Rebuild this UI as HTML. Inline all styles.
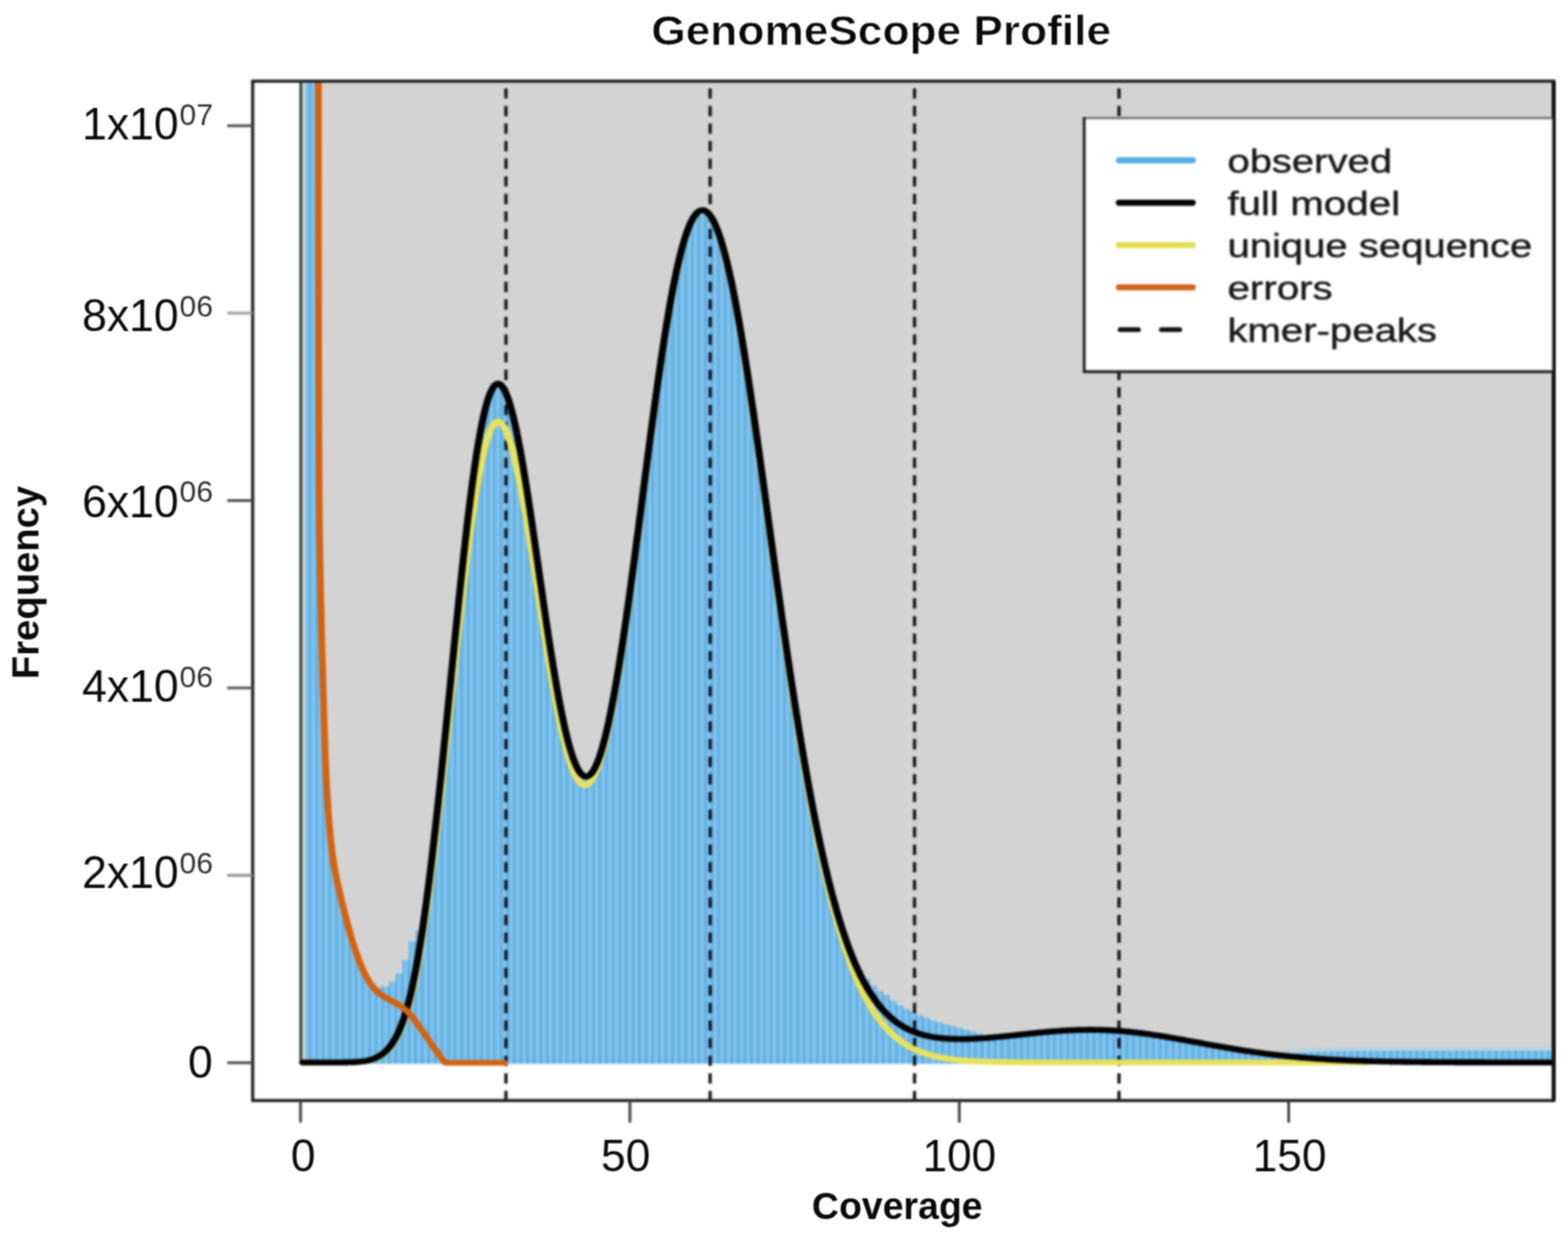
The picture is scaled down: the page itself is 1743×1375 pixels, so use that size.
<!DOCTYPE html>
<html lang="en">
<head>
<meta charset="utf-8">
<title>GenomeScope Profile</title>
<style>
html,body{margin:0;padding:0;background:#fff;}
body{width:1743px;height:1375px;overflow:hidden;font-family:"Liberation Sans",Arial,sans-serif;}
svg{display:block;}
</style>
</head>
<body>
<svg width="1743" height="1375" viewBox="0 0 1743 1375" font-family="'Liberation Sans', Arial, sans-serif">
<defs>
<clipPath id="cp"><rect x="280.9" y="90.2" width="1446.1999999999998" height="1133.1"/></clipPath>
<clipPath id="cpk"><rect x="238.051" y="90.2" width="1225.593" height="1133.1"/></clipPath>
<linearGradient id="sg" x1="0" y1="0" x2="1" y2="0"><stop offset="0" stop-color="#5eaadc"/><stop offset="0.5" stop-color="#88caf4"/><stop offset="1" stop-color="#5eaadc"/></linearGradient>
<pattern id="st" x="330.089" y="0" width="7.323" height="40" patternUnits="userSpaceOnUse"><rect x="0" y="0" width="7.323" height="40" fill="url(#sg)"/></pattern>
<filter id="soft" filterUnits="userSpaceOnUse" x="0" y="0" width="1743" height="1375" color-interpolation-filters="sRGB"><feGaussianBlur stdDeviation="1.0"/></filter>
<filter id="soft2" filterUnits="userSpaceOnUse" x="0" y="0" width="1743" height="1375" color-interpolation-filters="sRGB"><feConvolveMatrix order="3" kernelMatrix="1 2 1 2 4 2 1 2 1" divisor="16" edgeMode="duplicate" preserveAlpha="false"/></filter>
</defs>
<rect width="1743" height="1375" fill="#ffffff"/>
<g filter="url(#soft)">
<rect x="334" y="90.2" width="1393.1" height="1091.3" fill="#d3d3d3"/>
<g clip-path="url(#cp)">
<path d="M1399.25,1172.74V1168.24H1406.57V1172.74ZM1406.57,1173.68V1169.18H1413.89V1173.68ZM1413.89,1172.90V1168.40H1421.22V1172.90ZM1421.22,1172.16V1167.66H1428.54V1172.16ZM1428.54,1171.48V1166.98H1435.86V1171.48ZM1435.86,1170.88V1166.38H1443.18V1170.88ZM1443.18,1170.36V1165.86H1450.51V1170.36ZM1450.51,1169.91V1165.41H1457.83V1169.91ZM1457.83,1169.53V1165.03H1465.15V1169.53ZM1465.15,1169.22V1164.72H1472.48V1169.22ZM1472.48,1168.97V1164.47H1479.80V1168.97ZM1479.80,1168.76V1164.26H1487.12V1168.76ZM1487.12,1168.60V1164.10H1494.45V1168.60ZM1494.45,1168.47V1163.97H1501.77V1168.47ZM1501.77,1168.36V1163.86H1509.09V1168.36ZM1509.09,1168.28V1163.78H1516.41V1168.28ZM1516.41,1168.22V1163.72H1523.74V1168.22ZM1523.74,1168.16V1163.66H1531.06V1168.16ZM1531.06,1168.12V1163.62H1538.38V1168.12ZM1538.38,1168.09V1163.59H1545.71V1168.09ZM1545.71,1168.07V1163.57H1553.03V1168.07ZM1553.03,1168.05V1163.55H1560.35V1168.05ZM1560.35,1168.03V1163.53H1567.68V1168.03ZM1567.68,1168.02V1163.52H1575.00V1168.02ZM1575.00,1168.01V1163.51H1582.32V1168.01ZM1582.32,1168.01V1163.51H1589.64V1168.01ZM1589.64,1168.00V1163.50H1596.97V1168.00ZM1596.97,1168.00V1163.50H1604.29V1168.00ZM1604.29,1167.99V1163.49H1611.61V1167.99ZM1611.61,1167.99V1163.49H1618.94V1167.99ZM1618.94,1167.99V1163.49H1626.26V1167.99ZM1626.26,1167.99V1163.49H1633.58V1167.99ZM1633.58,1167.99V1163.49H1640.91V1167.99ZM1640.91,1167.98V1163.48H1648.23V1167.98ZM1648.23,1167.98V1163.48H1655.55V1167.98ZM1655.55,1167.98V1163.48H1662.87V1167.98ZM1662.87,1167.98V1163.48H1670.20V1167.98ZM1670.20,1167.98V1163.48H1677.52V1167.98ZM1677.52,1167.98V1163.48H1684.84V1167.98ZM1684.84,1167.98V1163.48H1692.17V1167.98ZM1692.17,1167.98V1163.48H1699.49V1167.98ZM1699.49,1167.98V1163.48H1706.81V1167.98ZM1706.81,1167.98V1163.48H1714.14V1167.98ZM1714.14,1167.98V1163.48H1721.46V1167.98ZM1721.46,1167.98V1163.48H1728.78V1167.98ZM1728.78,1167.98V1163.48H1736.10V1167.98ZM1736.10,1167.98V1163.48H1743.43V1167.98Z" fill="#a9d2ea" fill-opacity="0.75"/>
<path d="M339.20,1182.6V-4026.50H344.73V1182.6ZM344.73,1182.6V-4026.50H352.06V1182.6ZM352.06,1182.6V623.80H359.38V1182.6ZM359.38,1182.6V872.16H366.70V1182.6ZM366.70,1182.6V955.03H374.03V1182.6ZM374.03,1182.6V992.42H381.35V1182.6ZM381.35,1182.6V1022.02H388.67V1182.6ZM388.67,1182.6V1047.67H396.00V1182.6ZM396.00,1182.6V1068.06H403.32V1182.6ZM403.32,1182.6V1083.49H410.64V1182.6ZM410.64,1182.6V1093.03H417.96V1182.6ZM417.96,1182.6V1096.93H425.29V1182.6ZM425.29,1182.6V1096.45H432.61V1182.6ZM432.61,1182.6V1091.33H439.93V1182.6ZM439.93,1182.6V1082.04H447.26V1182.6ZM447.26,1182.6V1067.15H454.58V1182.6ZM454.58,1182.6V1046.40H461.90V1182.6ZM461.90,1182.6V1034.44H469.23V1182.6ZM469.23,1182.6V1010.46H476.55V1182.6ZM476.55,1182.6V952.91H483.87V1182.6ZM483.87,1182.6V887.84H491.19V1182.6ZM491.19,1182.6V817.57H498.52V1182.6ZM498.52,1182.6V744.83H505.84V1182.6ZM505.84,1182.6V672.79H513.16V1182.6ZM513.16,1182.6V604.82H520.49V1182.6ZM520.49,1182.6V544.29H527.81V1182.6ZM527.81,1182.6V494.24H535.13V1182.6ZM535.13,1182.6V457.06H542.46V1182.6ZM542.46,1182.6V434.30H549.78V1182.6ZM549.78,1182.6V426.55H557.10V1182.6ZM557.10,1182.6V433.44H564.42V1182.6ZM564.42,1182.6V453.74H571.75V1182.6ZM571.75,1182.6V485.47H579.07V1182.6ZM579.07,1182.6V526.17H586.39V1182.6ZM586.39,1182.6V573.05H593.72V1182.6ZM593.72,1182.6V623.21H601.04V1182.6ZM601.04,1182.6V673.84H608.36V1182.6ZM608.36,1182.6V722.32H615.69V1182.6ZM615.69,1182.6V766.30H623.01V1182.6ZM623.01,1182.6V803.76H630.33V1182.6ZM630.33,1182.6V833.04H637.65V1182.6ZM637.65,1182.6V852.85H644.98V1182.6ZM644.98,1182.6V862.34H652.30V1182.6ZM652.30,1182.6V861.12H659.62V1182.6ZM659.62,1182.6V849.26H666.95V1182.6ZM666.95,1182.6V827.30H674.27V1182.6ZM674.27,1182.6V796.13H681.59V1182.6ZM681.59,1182.6V756.96H688.92V1182.6ZM688.92,1182.6V711.16H696.24V1182.6ZM696.24,1182.6V660.29H703.56V1182.6ZM703.56,1182.6V605.97H710.88V1182.6ZM710.88,1182.6V549.92H718.21V1182.6ZM718.21,1182.6V493.93H725.53V1182.6ZM725.53,1182.6V439.77H732.85V1182.6ZM732.85,1182.6V389.22H740.18V1182.6ZM740.18,1182.6V343.91H747.50V1182.6ZM747.50,1182.6V305.27H754.82V1182.6ZM754.82,1182.6V274.41H762.15V1182.6ZM762.15,1182.6V252.02H769.47V1182.6ZM769.47,1182.6V238.42H776.79V1182.6ZM776.79,1182.6V233.64H784.11V1182.6ZM784.11,1182.6V237.51H791.44V1182.6ZM791.44,1182.6V249.81H798.76V1182.6ZM798.76,1182.6V270.24H806.08V1182.6ZM806.08,1182.6V298.32H813.41V1182.6ZM813.41,1182.6V333.35H820.73V1182.6ZM820.73,1182.6V374.36H828.05V1182.6ZM828.05,1182.6V420.21H835.38V1182.6ZM835.38,1182.6V469.63H842.70V1182.6ZM842.70,1182.6V521.40H850.02V1182.6ZM850.02,1182.6V574.32H857.34V1182.6ZM857.34,1182.6V627.34H864.67V1182.6ZM864.67,1182.6V679.52H871.99V1182.6ZM871.99,1182.6V730.09H879.31V1182.6ZM879.31,1182.6V778.38H886.64V1182.6ZM886.64,1182.6V823.89H893.96V1182.6ZM893.96,1182.6V866.25H901.28V1182.6ZM901.28,1182.6V905.22H908.61V1182.6ZM908.61,1182.6V940.69H915.93V1182.6ZM915.93,1182.6V972.61H923.25V1182.6ZM923.25,1182.6V1001.05H930.57V1182.6ZM930.57,1182.6V1026.15H937.90V1182.6ZM937.90,1182.6V1048.09H945.22V1182.6ZM945.22,1182.6V1064.48H952.54V1182.6ZM952.54,1182.6V1078.18H959.87V1182.6ZM959.87,1182.6V1087.87H967.19V1182.6ZM967.19,1182.6V1095.39H974.51V1182.6ZM974.51,1182.6V1101.50H981.84V1182.6ZM981.84,1182.6V1105.93H989.16V1182.6ZM989.16,1182.6V1112.29H996.48V1182.6ZM996.48,1182.6V1117.40H1003.80V1182.6ZM1003.80,1182.6V1121.45H1011.13V1182.6ZM1011.13,1182.6V1124.60H1018.45V1182.6ZM1018.45,1182.6V1128.29H1025.77V1182.6ZM1025.77,1182.6V1131.36H1033.10V1182.6ZM1033.10,1182.6V1133.90H1040.42V1182.6ZM1040.42,1182.6V1136.36H1047.74V1182.6ZM1047.74,1182.6V1138.45H1055.07V1182.6ZM1055.07,1182.6V1140.24H1062.39V1182.6ZM1062.39,1182.6V1142.48H1069.71V1182.6ZM1069.71,1182.6V1144.50H1077.03V1182.6ZM1077.03,1182.6V1146.36H1084.36V1182.6ZM1084.36,1182.6V1148.59H1091.68V1182.6ZM1091.68,1182.6V1150.70H1099.00V1182.6ZM1099.00,1182.6V1151.67H1106.33V1182.6ZM1106.33,1182.6V1152.57H1113.65V1182.6ZM1113.65,1182.6V1153.93H1120.97V1182.6ZM1120.97,1182.6V1153.17H1128.30V1182.6ZM1128.30,1182.6V1152.39H1135.62V1182.6ZM1135.62,1182.6V1151.60H1142.94V1182.6ZM1142.94,1182.6V1150.82H1150.26V1182.6ZM1150.26,1182.6V1150.07H1157.59V1182.6ZM1157.59,1182.6V1149.36H1164.91V1182.6ZM1164.91,1182.6V1148.71H1172.23V1182.6ZM1172.23,1182.6V1148.14H1179.56V1182.6ZM1179.56,1182.6V1147.65H1186.88V1182.6ZM1186.88,1182.6V1147.25H1194.20V1182.6ZM1194.20,1182.6V1146.97H1201.53V1182.6ZM1201.53,1182.6V1146.79H1208.85V1182.6ZM1208.85,1182.6V1146.74H1216.17V1182.6ZM1216.17,1182.6V1146.82H1223.49V1182.6ZM1223.49,1182.6V1147.03H1230.82V1182.6ZM1230.82,1182.6V1147.36H1238.14V1182.6ZM1238.14,1182.6V1147.82H1245.46V1182.6ZM1245.46,1182.6V1148.41H1252.79V1182.6ZM1252.79,1182.6V1149.11H1260.11V1182.6ZM1260.11,1182.6V1149.92H1267.43V1182.6ZM1267.43,1182.6V1150.84H1274.76V1182.6ZM1274.76,1182.6V1151.85H1282.08V1182.6ZM1282.08,1182.6V1152.94H1289.40V1182.6ZM1289.40,1182.6V1154.11H1296.72V1182.6ZM1296.72,1182.6V1155.33H1304.05V1182.6ZM1304.05,1182.6V1156.61H1311.37V1182.6ZM1311.37,1182.6V1157.91H1318.69V1182.6ZM1318.69,1182.6V1159.25H1326.02V1182.6ZM1326.02,1182.6V1160.59H1333.34V1182.6ZM1333.34,1182.6V1161.94H1340.66V1182.6ZM1340.66,1182.6V1163.28H1347.99V1182.6ZM1347.99,1182.6V1164.60H1355.31V1182.6ZM1355.31,1182.6V1165.89H1362.63V1182.6ZM1362.63,1182.6V1167.15H1369.95V1182.6ZM1369.95,1182.6V1168.37H1377.28V1182.6ZM1377.28,1182.6V1169.54H1384.60V1182.6ZM1384.60,1182.6V1170.66H1391.92V1182.6ZM1391.92,1182.6V1171.73H1399.25V1182.6ZM1399.25,1182.6V1172.74H1406.57V1182.6ZM1406.57,1182.6V1173.68H1413.89V1182.6ZM1413.89,1182.6V1172.90H1421.22V1182.6ZM1421.22,1182.6V1172.16H1428.54V1182.6ZM1428.54,1182.6V1171.48H1435.86V1182.6ZM1435.86,1182.6V1170.88H1443.18V1182.6ZM1443.18,1182.6V1170.36H1450.51V1182.6ZM1450.51,1182.6V1169.91H1457.83V1182.6ZM1457.83,1182.6V1169.53H1465.15V1182.6ZM1465.15,1182.6V1169.22H1472.48V1182.6ZM1472.48,1182.6V1168.97H1479.80V1182.6ZM1479.80,1182.6V1168.76H1487.12V1182.6ZM1487.12,1182.6V1168.60H1494.45V1182.6ZM1494.45,1182.6V1168.47H1501.77V1182.6ZM1501.77,1182.6V1168.36H1509.09V1182.6ZM1509.09,1182.6V1168.28H1516.41V1182.6ZM1516.41,1182.6V1168.22H1523.74V1182.6ZM1523.74,1182.6V1168.16H1531.06V1182.6ZM1531.06,1182.6V1168.12H1538.38V1182.6ZM1538.38,1182.6V1168.09H1545.71V1182.6ZM1545.71,1182.6V1168.07H1553.03V1182.6ZM1553.03,1182.6V1168.05H1560.35V1182.6ZM1560.35,1182.6V1168.03H1567.68V1182.6ZM1567.68,1182.6V1168.02H1575.00V1182.6ZM1575.00,1182.6V1168.01H1582.32V1182.6ZM1582.32,1182.6V1168.01H1589.64V1182.6ZM1589.64,1182.6V1168.00H1596.97V1182.6ZM1596.97,1182.6V1168.00H1604.29V1182.6ZM1604.29,1182.6V1167.99H1611.61V1182.6ZM1611.61,1182.6V1167.99H1618.94V1182.6ZM1618.94,1182.6V1167.99H1626.26V1182.6ZM1626.26,1182.6V1167.99H1633.58V1182.6ZM1633.58,1182.6V1167.99H1640.91V1182.6ZM1640.91,1182.6V1167.98H1648.23V1182.6ZM1648.23,1182.6V1167.98H1655.55V1182.6ZM1655.55,1182.6V1167.98H1662.87V1182.6ZM1662.87,1182.6V1167.98H1670.20V1182.6ZM1670.20,1182.6V1167.98H1677.52V1182.6ZM1677.52,1182.6V1167.98H1684.84V1182.6ZM1684.84,1182.6V1167.98H1692.17V1182.6ZM1692.17,1182.6V1167.98H1699.49V1182.6ZM1699.49,1182.6V1167.98H1706.81V1182.6ZM1706.81,1182.6V1167.98H1714.14V1182.6ZM1714.14,1182.6V1167.98H1721.46V1182.6ZM1721.46,1182.6V1167.98H1728.78V1182.6ZM1728.78,1182.6V1167.98H1736.10V1182.6ZM1736.10,1182.6V1167.98H1743.43V1182.6Z" fill="url(#st)"/>
<line x1="334.4" y1="90.2" x2="334.4" y2="1183" stroke="#3c4448" stroke-width="3.3"/>
<line x1="562.40" y1="78.6" x2="562.40" y2="1223.3" stroke="#0a0c0e" stroke-opacity="0.95" stroke-width="3.6" stroke-dasharray="11.45 8.1"/>
<line x1="789.40" y1="78.6" x2="789.40" y2="1223.3" stroke="#0a0c0e" stroke-opacity="0.95" stroke-width="3.6" stroke-dasharray="11.45 8.1"/>
<line x1="1016.60" y1="78.6" x2="1016.60" y2="1223.3" stroke="#0a0c0e" stroke-opacity="0.95" stroke-width="3.6" stroke-dasharray="11.45 8.1"/>
<line x1="1243.90" y1="78.6" x2="1243.90" y2="1223.3" stroke="#0a0c0e" stroke-opacity="0.95" stroke-width="3.6" stroke-dasharray="11.45 8.1"/>
</g>
<g clip-path="url(#cpk)" transform="scale(1.18,1)" fill="none" stroke-linejoin="round" stroke-linecap="round" stroke-width="6.6">
<polyline points="285.32,1181.00 286.56,1181.00 287.80,1181.00 289.04,1181.00 290.29,1181.00 291.53,1181.00 292.77,1181.00 294.01,1181.00 295.25,1181.00 296.49,1181.00 297.73,1181.00 298.97,1181.00 300.22,1181.00 301.46,1181.00 302.70,1181.00 303.94,1181.00 305.18,1181.00 306.42,1181.00 307.66,1181.00 308.90,1181.00 310.15,1181.00 311.39,1180.99 312.63,1180.99 313.87,1180.99 315.11,1180.99 316.35,1180.98 317.59,1180.98 318.83,1180.97 320.07,1180.96 321.32,1180.95 322.56,1180.94 323.80,1180.92 325.04,1180.90 326.28,1180.88 327.52,1180.85 328.76,1180.82 330.00,1180.78 331.25,1180.73 332.49,1180.68 333.73,1180.61 334.97,1180.53 336.21,1180.44 337.45,1180.34 338.69,1180.21 339.93,1180.07 341.17,1179.91 342.42,1179.72 343.66,1179.51 344.90,1179.26 346.14,1178.98 347.38,1178.67 348.62,1178.31 349.86,1177.91 351.10,1177.45 352.35,1176.95 353.59,1176.38 354.83,1175.76 356.07,1175.06 357.31,1174.29 358.55,1173.43 359.79,1172.49 361.03,1171.44 362.27,1170.30 363.52,1169.04 364.76,1167.67 366.00,1166.16 367.24,1164.51 368.48,1162.70 369.72,1160.74 370.96,1158.59 372.20,1156.26 373.45,1153.72 374.69,1150.97 375.93,1147.98 377.17,1144.75 378.41,1141.25 379.65,1137.48 380.89,1133.41 382.13,1129.04 383.38,1124.35 384.62,1119.32 385.86,1113.95 387.10,1108.22 388.34,1102.13 389.58,1095.66 390.82,1088.81 392.06,1081.59 393.30,1073.97 394.55,1065.97 395.79,1057.58 397.03,1048.82 398.27,1039.67 399.51,1030.16 400.75,1020.28 401.99,1010.06 403.23,999.49 404.48,988.59 405.72,977.38 406.96,965.87 408.20,954.07 409.44,942.01 410.68,929.69 411.92,917.14 413.16,904.37 414.40,891.40 415.65,878.26 416.89,864.96 418.13,851.52 419.37,837.97 420.61,824.32 421.85,810.61 423.09,796.85 424.33,783.06 425.58,769.28 426.82,755.52 428.06,741.81 429.30,728.18 430.54,714.65 431.78,701.25 433.02,688.00 434.26,674.94 435.50,662.08 436.75,649.45 437.99,637.08 439.23,624.99 440.47,613.21 441.71,601.76 442.95,590.66 444.19,579.94 445.43,569.61 446.68,559.70 447.92,550.24 449.16,541.22 450.40,532.68 451.64,524.63 452.88,517.08 454.12,510.04 455.36,503.54 456.61,497.57 457.85,492.15 459.09,487.28 460.33,482.98 461.57,479.23 462.81,476.06 464.05,473.46 465.29,471.42 466.53,469.95 467.78,469.05 469.02,468.71 470.26,468.92 471.50,469.68 472.74,470.98 473.98,472.81 475.22,475.16 476.46,478.02 477.71,481.37 478.95,485.20 480.19,489.50 481.43,494.24 482.67,499.42 483.91,505.01 485.15,511.00 486.39,517.36 487.63,524.08 488.88,531.14 490.12,538.52 491.36,546.19 492.60,554.14 493.84,562.34 495.08,570.77 496.32,579.41 497.56,588.23 498.81,597.22 500.05,606.36 501.29,615.61 502.53,624.96 503.77,634.39 505.01,643.88 506.25,653.40 507.49,662.93 508.73,672.45 509.98,681.95 511.22,691.40 512.46,700.78 513.70,710.07 514.94,719.26 516.18,728.32 517.42,737.24 518.66,746.00 519.91,754.59 521.15,762.97 522.39,771.15 523.63,779.11 524.87,786.82 526.11,794.28 527.35,801.47 528.59,808.38 529.84,815.00 531.08,821.30 532.32,827.29 533.56,832.95 534.80,838.26 536.04,843.23 537.28,847.83 538.52,852.07 539.76,855.93 541.01,859.40 542.25,862.48 543.49,865.17 544.73,867.45 545.97,869.32 547.21,870.79 548.45,871.84 549.69,872.47 550.94,872.68 552.18,872.48 553.42,871.85 554.66,870.81 555.90,869.34 557.14,867.47 558.38,865.18 559.62,862.48 560.86,859.37 562.11,855.87 563.35,851.97 564.59,847.68 565.83,843.01 567.07,837.96 568.31,832.55 569.55,826.77 570.79,820.65 572.04,814.18 573.28,807.38 574.52,800.26 575.76,792.82 577.00,785.08 578.24,777.05 579.48,768.74 580.72,760.16 581.96,751.33 583.21,742.24 584.45,732.92 585.69,723.38 586.93,713.63 588.17,703.68 589.41,693.55 590.65,683.25 591.89,672.78 593.14,662.17 594.38,651.43 595.62,640.56 596.86,629.60 598.10,618.53 599.34,607.39 600.58,596.19 601.82,584.93 603.07,573.64 604.31,562.32 605.55,551.00 606.79,539.68 608.03,528.38 609.27,517.11 610.51,505.89 611.75,494.74 612.99,483.66 614.24,472.67 615.48,461.78 616.72,451.02 617.96,440.38 619.20,429.90 620.44,419.57 621.68,409.42 622.92,399.45 624.17,389.69 625.41,380.13 626.65,370.81 627.89,361.71 629.13,352.87 630.37,344.28 631.61,335.97 632.85,327.93 634.09,320.18 635.34,312.73 636.58,305.59 637.82,298.75 639.06,292.24 640.30,286.06 641.54,280.21 642.78,274.69 644.02,269.52 645.27,264.69 646.51,260.21 647.75,256.08 648.99,252.31 650.23,248.88 651.47,245.81 652.71,243.10 653.95,240.74 655.19,238.74 656.44,237.09 657.68,235.79 658.92,234.84 660.16,234.25 661.40,234.00 662.64,234.10 663.88,234.55 665.12,235.34 666.37,236.48 667.61,237.95 668.85,239.77 670.09,241.92 671.33,244.40 672.57,247.22 673.81,250.36 675.05,253.83 676.30,257.63 677.54,261.75 678.78,266.18 680.02,270.93 681.26,275.98 682.50,281.34 683.74,286.99 684.98,292.94 686.22,299.18 687.47,305.69 688.71,312.48 689.95,319.54 691.19,326.85 692.43,334.41 693.67,342.22 694.91,350.25 696.15,358.51 697.40,366.99 698.64,375.67 699.88,384.55 701.12,393.61 702.36,402.85 703.60,412.25 704.84,421.81 706.08,431.51 707.32,441.35 708.57,451.31 709.81,461.39 711.05,471.57 712.29,481.85 713.53,492.21 714.77,502.65 716.01,513.15 717.25,523.72 718.50,534.33 719.74,544.98 720.98,555.66 722.22,566.36 723.46,577.08 724.70,587.80 725.94,598.52 727.18,609.23 728.42,619.92 729.67,630.59 730.91,641.22 732.15,651.82 733.39,662.37 734.63,672.87 735.87,683.32 737.11,693.70 738.35,704.01 739.60,714.25 740.84,724.41 742.08,734.48 743.32,744.46 744.56,754.35 745.80,764.14 747.04,773.83 748.28,783.42 749.53,792.89 750.77,802.25 752.01,811.50 753.25,820.62 754.49,829.62 755.73,838.50 756.97,847.25 758.21,855.88 759.45,864.37 760.70,872.73 761.94,880.95 763.18,889.04 764.42,896.99 765.66,904.81 766.90,912.48 768.14,920.02 769.38,927.41 770.63,934.67 771.87,941.78 773.11,948.75 774.35,955.58 775.59,962.28 776.83,968.83 778.07,975.24 779.31,981.51 780.55,987.65 781.80,993.64 783.04,999.50 784.28,1005.22 785.52,1010.81 786.76,1016.27 788.00,1021.59 789.24,1026.78 790.48,1031.84 791.73,1036.78 792.97,1041.58 794.21,1046.27 795.45,1050.82 796.69,1055.26 797.93,1059.58 799.17,1063.78 800.41,1067.86 801.65,1071.83 802.90,1075.69 804.14,1079.43 805.38,1083.07 806.62,1086.60 807.86,1090.03 809.10,1093.35 810.34,1096.58 811.58,1099.70 812.83,1102.73 814.07,1105.67 815.31,1108.51 816.55,1111.27 817.79,1113.93 819.03,1116.51 820.27,1119.00 821.51,1121.42 822.76,1123.75 824.00,1126.00 825.24,1128.18 826.48,1130.29 827.72,1132.32 828.96,1134.28 830.20,1136.17 831.44,1138.00 832.68,1139.76 833.93,1141.46 835.17,1143.10 836.41,1144.68 837.65,1146.20 838.89,1147.66 840.13,1149.07 841.37,1150.43 842.61,1151.74 843.86,1153.00 845.10,1154.21 846.34,1155.37 847.58,1156.49 848.82,1157.56 850.06,1158.59 851.30,1159.59 852.54,1160.54 853.78,1161.45 855.03,1162.33 856.27,1163.17 857.51,1163.98 858.75,1164.76 859.99,1165.50 861.23,1166.21 862.47,1166.89 863.71,1167.55 864.96,1168.18 866.20,1168.78 867.44,1169.35 868.68,1169.90 869.92,1170.43 871.16,1170.93 872.40,1171.41 873.64,1171.87 874.88,1172.31 876.13,1172.73 877.37,1173.13 878.61,1173.52 879.85,1173.88 881.09,1174.23 882.33,1174.57 883.57,1174.89 884.81,1175.19 886.06,1175.48 887.30,1175.76 888.54,1176.02 889.78,1176.27 891.02,1176.51 892.26,1176.74 893.50,1176.96 894.74,1177.17 895.99,1177.36 897.23,1177.55 898.47,1177.73 899.71,1177.90 900.95,1178.06 902.19,1178.22 903.43,1178.36 904.67,1178.50 905.91,1178.64 907.16,1178.76 908.40,1178.88 909.64,1178.99 910.88,1179.10 912.12,1179.20 913.36,1179.30 914.60,1179.39 915.84,1179.48 917.09,1179.56 918.33,1179.64 919.57,1179.72 920.81,1179.79 922.05,1179.86 923.29,1179.92 924.53,1179.98 925.77,1180.04 927.01,1180.09 928.26,1180.14 929.50,1180.19 930.74,1180.24 931.98,1180.28 933.22,1180.32 934.46,1180.36 935.70,1180.40 936.94,1180.43 938.19,1180.46 939.43,1180.49 940.67,1180.52 941.91,1180.55 943.15,1180.58 944.39,1180.60 945.63,1180.63 946.87,1180.65 948.11,1180.67 949.36,1180.69 950.60,1180.71 951.84,1180.72 953.08,1180.74 954.32,1180.76 955.56,1180.77 956.80,1180.78 958.04,1180.80 959.29,1180.81 960.53,1180.82 961.77,1180.83 963.01,1180.84 964.25,1180.85 965.49,1180.86 966.73,1180.87 967.97,1180.88 969.22,1180.89 970.46,1180.89 971.70,1180.90 972.94,1180.91 974.18,1180.91 975.42,1180.92 976.66,1180.92 977.90,1180.93 979.14,1180.93 980.39,1180.94 981.63,1180.94 982.87,1180.94 984.11,1180.95 985.35,1180.95 986.59,1180.95 987.83,1180.96 989.07,1180.96 990.32,1180.96 991.56,1180.96 992.80,1180.97 994.04,1180.97 995.28,1180.97 996.52,1180.97 997.76,1180.97 999.00,1180.98 1000.24,1180.98 1001.49,1180.98 1002.73,1180.98 1003.97,1180.98 1005.21,1180.98 1006.45,1180.98 1007.69,1180.99 1008.93,1180.99 1010.17,1180.99 1011.42,1180.99 1012.66,1180.99 1013.90,1180.99 1015.14,1180.99 1016.38,1180.99 1017.62,1180.99 1018.86,1180.99 1020.10,1180.99 1021.34,1180.99 1022.59,1180.99 1023.83,1180.99 1025.07,1180.99 1026.31,1180.99 1027.55,1181.00 1028.79,1181.00 1030.03,1181.00 1031.27,1181.00 1032.52,1181.00 1033.76,1181.00 1035.00,1181.00 1036.24,1181.00 1037.48,1181.00 1038.72,1181.00 1039.96,1181.00 1041.20,1181.00 1042.45,1181.00 1043.69,1181.00 1044.93,1181.00 1046.17,1181.00 1047.41,1181.00 1048.65,1181.00 1049.89,1181.00 1051.13,1181.00 1052.37,1181.00 1053.62,1181.00 1054.86,1181.00 1056.10,1181.00 1057.34,1181.00 1058.58,1181.00 1059.82,1181.00 1061.06,1181.00 1062.30,1181.00 1063.55,1181.00 1064.79,1181.00 1066.03,1181.00 1067.27,1181.00 1068.51,1181.00 1069.75,1181.00 1070.99,1181.00 1072.23,1181.00 1073.47,1181.00 1074.72,1181.00 1075.96,1181.00 1077.20,1181.00 1078.44,1181.00 1079.68,1181.00 1080.92,1181.00 1082.16,1181.00 1083.40,1181.00 1084.65,1181.00 1085.89,1181.00 1087.13,1181.00 1088.37,1181.00 1089.61,1181.00 1090.85,1181.00 1092.09,1181.00 1093.33,1181.00 1094.57,1181.00 1095.82,1181.00 1097.06,1181.00 1098.30,1181.00 1099.54,1181.00 1100.78,1181.00 1102.02,1181.00 1103.26,1181.00 1104.50,1181.00 1105.75,1181.00 1106.99,1181.00 1108.23,1181.00 1109.47,1181.00 1110.71,1181.00 1111.95,1181.00 1113.19,1181.00 1114.43,1181.00 1115.68,1181.00 1116.92,1181.00 1118.16,1181.00 1119.40,1181.00 1120.64,1181.00 1121.88,1181.00 1123.12,1181.00 1124.36,1181.00 1125.60,1181.00 1126.85,1181.00 1128.09,1181.00 1129.33,1181.00 1130.57,1181.00 1131.81,1181.00 1133.05,1181.00 1134.29,1181.00 1135.53,1181.00 1136.78,1181.00 1138.02,1181.00 1139.26,1181.00 1140.50,1181.00 1141.74,1181.00 1142.98,1181.00 1144.22,1181.00 1145.46,1181.00 1146.70,1181.00 1147.95,1181.00 1149.19,1181.00 1150.43,1181.00 1151.67,1181.00 1152.91,1181.00 1154.15,1181.00 1155.39,1181.00 1156.63,1181.00 1157.88,1181.00 1159.12,1181.00 1160.36,1181.00 1161.60,1181.00 1162.84,1181.00 1164.08,1181.00 1165.32,1181.00 1166.56,1181.00 1167.80,1181.00 1169.05,1181.00 1170.29,1181.00 1171.53,1181.00 1172.77,1181.00 1174.01,1181.00 1175.25,1181.00 1176.49,1181.00 1177.73,1181.00 1178.98,1181.00 1180.22,1181.00 1181.46,1181.00 1182.70,1181.00 1183.94,1181.00 1185.18,1181.00 1186.42,1181.00 1187.66,1181.00 1188.91,1181.00 1190.15,1181.00 1191.39,1181.00 1192.63,1181.00 1193.87,1181.00 1195.11,1181.00 1196.35,1181.00 1197.59,1181.00 1198.83,1181.00 1200.08,1181.00 1201.32,1181.00 1202.56,1181.00 1203.80,1181.00 1205.04,1181.00 1206.28,1181.00 1207.52,1181.00 1208.76,1181.00 1210.01,1181.00 1211.25,1181.00 1212.49,1181.00 1213.73,1181.00 1214.97,1181.00 1216.21,1181.00 1217.45,1181.00 1218.69,1181.00 1219.93,1181.00 1221.18,1181.00 1222.42,1181.00 1223.66,1181.00 1224.90,1181.00 1226.14,1181.00 1227.38,1181.00 1228.62,1181.00 1229.86,1181.00 1231.11,1181.00 1232.35,1181.00 1233.59,1181.00 1234.83,1181.00 1236.07,1181.00 1237.31,1181.00 1238.55,1181.00 1239.79,1181.00 1241.03,1181.00 1242.28,1181.00 1243.52,1181.00 1244.76,1181.00 1246.00,1181.00 1247.24,1181.00 1248.48,1181.00 1249.72,1181.00 1250.96,1181.00 1252.21,1181.00 1253.45,1181.00 1254.69,1181.00 1255.93,1181.00 1257.17,1181.00 1258.41,1181.00 1259.65,1181.00 1260.89,1181.00 1262.14,1181.00 1263.38,1181.00 1264.62,1181.00 1265.86,1181.00 1267.10,1181.00 1268.34,1181.00 1269.58,1181.00 1270.82,1181.00 1272.06,1181.00 1273.31,1181.00 1274.55,1181.00 1275.79,1181.00 1277.03,1181.00 1278.27,1181.00 1279.51,1181.00 1280.75,1181.00 1281.99,1181.00 1283.24,1181.00 1284.48,1181.00 1285.72,1181.00 1286.96,1181.00" stroke="#e8e25c"/>
<polyline points="285.32,1181.00 286.56,1181.00 287.80,1181.00 289.04,1181.00 290.29,1181.00 291.53,1181.00 292.77,1181.00 294.01,1181.00 295.25,1181.00 296.49,1181.00 297.73,1181.00 298.97,1181.00 300.22,1181.00 301.46,1181.00 302.70,1181.00 303.94,1181.00 305.18,1181.00 306.42,1181.00 307.66,1181.00 308.90,1181.00 310.15,1180.99 311.39,1180.99 312.63,1180.99 313.87,1180.99 315.11,1180.98 316.35,1180.98 317.59,1180.97 318.83,1180.97 320.07,1180.96 321.32,1180.95 322.56,1180.93 323.80,1180.92 325.04,1180.90 326.28,1180.87 327.52,1180.84 328.76,1180.81 330.00,1180.77 331.25,1180.72 332.49,1180.66 333.73,1180.59 334.97,1180.51 336.21,1180.41 337.45,1180.30 338.69,1180.17 339.93,1180.02 341.17,1179.84 342.42,1179.64 343.66,1179.41 344.90,1179.15 346.14,1178.86 347.38,1178.52 348.62,1178.14 349.86,1177.71 351.10,1177.23 352.35,1176.69 353.59,1176.09 354.83,1175.42 356.07,1174.68 357.31,1173.85 358.55,1172.94 359.79,1171.93 361.03,1170.82 362.27,1169.60 363.52,1168.26 364.76,1166.79 366.00,1165.18 367.24,1163.42 368.48,1161.49 369.72,1159.39 370.96,1157.10 372.20,1154.61 373.45,1151.91 374.69,1148.97 375.93,1145.79 377.17,1142.35 378.41,1138.62 379.65,1134.61 380.89,1130.29 382.13,1125.64 383.38,1120.65 384.62,1115.32 385.86,1109.62 387.10,1103.54 388.34,1097.08 389.58,1090.23 390.82,1082.98 392.06,1075.32 393.30,1067.26 394.55,1058.79 395.79,1049.92 397.03,1040.64 398.27,1030.97 399.51,1020.90 400.75,1010.46 401.99,999.64 403.23,988.47 404.48,976.94 405.72,965.09 406.96,952.91 408.20,940.43 409.44,927.67 410.68,914.64 411.92,901.36 413.16,887.84 414.40,874.12 415.65,860.21 416.89,846.14 418.13,831.91 419.37,817.57 420.61,803.12 421.85,788.60 423.09,774.03 424.33,759.43 425.58,744.83 426.82,730.26 428.06,715.75 429.30,701.31 430.54,686.98 431.78,672.79 433.02,658.76 434.26,644.92 435.50,631.30 436.75,617.92 437.99,604.82 439.23,592.01 440.47,579.53 441.71,567.40 442.95,555.65 444.19,544.29 445.43,533.35 446.68,522.86 447.92,512.83 449.16,503.29 450.40,494.24 451.64,485.71 452.88,477.72 454.12,470.27 455.36,463.38 456.61,457.06 457.85,451.32 459.09,446.17 460.33,441.61 461.57,437.66 462.81,434.30 464.05,431.55 465.29,429.40 466.53,427.85 467.78,426.90 469.02,426.55 470.26,426.79 471.50,427.60 472.74,428.99 473.98,430.94 475.22,433.44 476.46,436.48 477.71,440.05 478.95,444.12 480.19,448.69 481.43,453.74 482.67,459.24 483.91,465.19 485.15,471.56 486.39,478.32 487.63,485.47 488.88,492.98 490.12,500.83 491.36,508.99 492.60,517.45 493.84,526.17 495.08,535.14 496.32,544.34 497.56,553.74 498.81,563.32 500.05,573.05 501.29,582.91 502.53,592.88 503.77,602.93 505.01,613.05 506.25,623.21 507.49,633.38 508.73,643.56 509.98,653.70 511.22,663.80 512.46,673.84 513.70,683.79 514.94,693.63 516.18,703.34 517.42,712.91 518.66,722.32 519.91,731.54 521.15,740.57 522.39,749.38 523.63,757.96 524.87,766.30 526.11,774.37 527.35,782.17 528.59,789.67 529.84,796.88 531.08,803.76 532.32,810.32 533.56,816.54 534.80,822.40 536.04,827.91 537.28,833.04 538.52,837.79 539.76,842.16 541.01,846.13 542.25,849.69 543.49,852.85 544.73,855.59 545.97,857.92 547.21,859.82 548.45,861.29 549.69,862.34 550.94,862.96 552.18,863.14 553.42,862.90 554.66,862.22 555.90,861.12 557.14,859.58 558.38,857.63 559.62,855.25 560.86,852.46 562.11,849.26 563.35,845.65 564.59,841.64 565.83,837.24 567.07,832.46 568.31,827.30 569.55,821.77 570.79,815.87 572.04,809.63 573.28,803.05 574.52,796.13 575.76,788.90 577.00,781.35 578.24,773.50 579.48,765.37 580.72,756.96 581.96,748.28 583.21,739.35 584.45,730.18 585.69,720.78 586.93,711.16 588.17,701.34 589.41,691.33 590.65,681.14 591.89,670.79 593.14,660.29 594.38,649.64 595.62,638.88 596.86,628.00 598.10,617.02 599.34,605.97 600.58,594.84 601.82,583.66 603.07,572.43 604.31,561.18 605.55,549.92 606.79,538.66 608.03,527.42 609.27,516.20 610.51,505.04 611.75,493.93 612.99,482.89 614.24,471.94 615.48,461.10 616.72,450.37 617.96,439.77 619.20,429.32 620.44,419.02 621.68,408.90 622.92,398.96 624.17,389.22 625.41,379.69 626.65,370.38 627.89,361.31 629.13,352.48 630.37,343.91 631.61,335.61 632.85,327.58 634.09,319.85 635.34,312.41 636.58,305.27 637.82,298.45 639.06,291.95 640.30,285.77 641.54,279.92 642.78,274.41 644.02,269.24 645.27,264.41 646.51,259.93 647.75,255.80 648.99,252.02 650.23,248.59 651.47,245.52 652.71,242.80 653.95,240.44 655.19,238.42 656.44,236.77 657.68,235.46 658.92,234.50 660.16,233.90 661.40,233.64 662.64,233.72 663.88,234.16 665.12,234.93 666.37,236.05 667.61,237.51 668.85,239.30 670.09,241.43 671.33,243.90 672.57,246.69 673.81,249.81 675.05,253.26 676.30,257.03 677.54,261.12 678.78,265.52 680.02,270.24 681.26,275.26 682.50,280.59 683.74,286.21 684.98,292.12 686.22,298.32 687.47,304.80 688.71,311.55 689.95,318.56 691.19,325.83 692.43,333.35 693.67,341.11 694.91,349.10 696.15,357.31 697.40,365.74 698.64,374.36 699.88,383.19 701.12,392.19 702.36,401.37 703.60,410.71 704.84,420.21 706.08,429.85 707.32,439.62 708.57,449.52 709.81,459.52 711.05,469.63 712.29,479.84 713.53,490.13 714.77,500.49 716.01,510.91 717.25,521.40 718.50,531.92 719.74,542.49 720.98,553.08 722.22,563.69 723.46,574.32 724.70,584.95 725.94,595.57 727.18,606.18 728.42,616.77 729.67,627.34 730.91,637.87 732.15,648.36 733.39,658.80 734.63,669.19 735.87,679.52 737.11,689.79 738.35,699.98 739.60,710.10 740.84,720.14 742.08,730.09 743.32,739.95 744.56,749.71 745.80,759.37 747.04,768.93 748.28,778.38 749.53,787.72 750.77,796.94 752.01,806.04 753.25,815.03 754.49,823.89 755.73,832.62 756.97,841.23 758.21,849.70 759.45,858.04 760.70,866.25 761.94,874.32 763.18,882.26 764.42,890.05 765.66,897.71 766.90,905.22 768.14,912.60 769.38,919.83 770.63,926.93 771.87,933.88 773.11,940.69 774.35,947.35 775.59,953.88 776.83,960.26 778.07,966.50 779.31,972.61 780.55,978.57 781.80,984.40 783.04,990.09 784.28,995.64 785.52,1001.05 786.76,1006.34 788.00,1011.49 789.24,1016.51 790.48,1021.39 791.73,1026.15 792.97,1030.79 794.21,1035.30 795.45,1039.68 796.69,1043.95 797.93,1048.09 799.17,1052.12 800.41,1056.03 801.65,1059.83 802.90,1063.51 804.14,1067.09 805.38,1070.56 806.62,1073.92 807.86,1077.18 809.10,1080.33 810.34,1083.39 811.58,1086.35 812.83,1089.21 814.07,1091.98 815.31,1094.66 816.55,1097.25 817.79,1099.75 819.03,1102.17 820.27,1104.50 821.51,1106.76 822.76,1108.93 824.00,1111.03 825.24,1113.05 826.48,1115.00 827.72,1116.88 828.96,1118.69 830.20,1120.43 831.44,1122.11 832.68,1123.72 833.93,1125.27 835.17,1126.76 836.41,1128.19 837.65,1129.57 838.89,1130.89 840.13,1132.16 841.37,1133.38 842.61,1134.55 843.86,1135.67 845.10,1136.74 846.34,1137.77 847.58,1138.75 848.82,1139.69 850.06,1140.59 851.30,1141.45 852.54,1142.27 853.78,1143.06 855.03,1143.81 856.27,1144.52 857.51,1145.20 858.75,1145.85 859.99,1146.47 861.23,1147.06 862.47,1147.61 863.71,1148.14 864.96,1148.65 866.20,1149.12 867.44,1149.58 868.68,1150.00 869.92,1150.41 871.16,1150.79 872.40,1151.15 873.64,1151.49 874.88,1151.81 876.13,1152.11 877.37,1152.39 878.61,1152.65 879.85,1152.90 881.09,1153.13 882.33,1153.34 883.57,1153.53 884.81,1153.72 886.06,1153.88 887.30,1154.04 888.54,1154.18 889.78,1154.30 891.02,1154.42 892.26,1154.52 893.50,1154.61 894.74,1154.69 895.99,1154.76 897.23,1154.82 898.47,1154.87 899.71,1154.91 900.95,1154.94 902.19,1154.96 903.43,1154.97 904.67,1154.98 905.91,1154.97 907.16,1154.96 908.40,1154.94 909.64,1154.92 910.88,1154.88 912.12,1154.84 913.36,1154.80 914.60,1154.75 915.84,1154.69 917.09,1154.62 918.33,1154.55 919.57,1154.48 920.81,1154.40 922.05,1154.31 923.29,1154.22 924.53,1154.13 925.77,1154.03 927.01,1153.93 928.26,1153.82 929.50,1153.71 930.74,1153.60 931.98,1153.48 933.22,1153.36 934.46,1153.23 935.70,1153.11 936.94,1152.98 938.19,1152.84 939.43,1152.71 940.67,1152.57 941.91,1152.43 943.15,1152.29 944.39,1152.14 945.63,1152.00 946.87,1151.85 948.11,1151.70 949.36,1151.55 950.60,1151.39 951.84,1151.24 953.08,1151.09 954.32,1150.93 955.56,1150.77 956.80,1150.62 958.04,1150.46 959.29,1150.30 960.53,1150.15 961.77,1149.99 963.01,1149.83 964.25,1149.67 965.49,1149.51 966.73,1149.36 967.97,1149.20 969.22,1149.05 970.46,1148.89 971.70,1148.74 972.94,1148.58 974.18,1148.43 975.42,1148.28 976.66,1148.13 977.90,1147.99 979.14,1147.84 980.39,1147.70 981.63,1147.56 982.87,1147.42 984.11,1147.28 985.35,1147.14 986.59,1147.01 987.83,1146.88 989.07,1146.76 990.32,1146.63 991.56,1146.51 992.80,1146.39 994.04,1146.28 995.28,1146.16 996.52,1146.05 997.76,1145.95 999.00,1145.85 1000.24,1145.75 1001.49,1145.65 1002.73,1145.56 1003.97,1145.48 1005.21,1145.39 1006.45,1145.32 1007.69,1145.24 1008.93,1145.17 1010.17,1145.10 1011.42,1145.04 1012.66,1144.98 1013.90,1144.93 1015.14,1144.88 1016.38,1144.84 1017.62,1144.80 1018.86,1144.77 1020.10,1144.74 1021.34,1144.71 1022.59,1144.69 1023.83,1144.68 1025.07,1144.67 1026.31,1144.66 1027.55,1144.66 1028.79,1144.67 1030.03,1144.68 1031.27,1144.69 1032.52,1144.71 1033.76,1144.74 1035.00,1144.77 1036.24,1144.80 1037.48,1144.85 1038.72,1144.89 1039.96,1144.94 1041.20,1145.00 1042.45,1145.06 1043.69,1145.13 1044.93,1145.20 1046.17,1145.28 1047.41,1145.36 1048.65,1145.45 1049.89,1145.54 1051.13,1145.64 1052.37,1145.74 1053.62,1145.84 1054.86,1145.96 1056.10,1146.07 1057.34,1146.20 1058.58,1146.32 1059.82,1146.45 1061.06,1146.59 1062.30,1146.73 1063.55,1146.88 1064.79,1147.03 1066.03,1147.18 1067.27,1147.34 1068.51,1147.50 1069.75,1147.67 1070.99,1147.84 1072.23,1148.01 1073.47,1148.19 1074.72,1148.38 1075.96,1148.57 1077.20,1148.76 1078.44,1148.95 1079.68,1149.15 1080.92,1149.35 1082.16,1149.56 1083.40,1149.77 1084.65,1149.98 1085.89,1150.20 1087.13,1150.41 1088.37,1150.64 1089.61,1150.86 1090.85,1151.09 1092.09,1151.32 1093.33,1151.55 1094.57,1151.79 1095.82,1152.03 1097.06,1152.27 1098.30,1152.51 1099.54,1152.75 1100.78,1153.00 1102.02,1153.25 1103.26,1153.50 1104.50,1153.75 1105.75,1154.01 1106.99,1154.26 1108.23,1154.52 1109.47,1154.78 1110.71,1155.04 1111.95,1155.30 1113.19,1155.57 1114.43,1155.83 1115.68,1156.10 1116.92,1156.36 1118.16,1156.63 1119.40,1156.90 1120.64,1157.16 1121.88,1157.43 1123.12,1157.70 1124.36,1157.97 1125.60,1158.24 1126.85,1158.51 1128.09,1158.78 1129.33,1159.05 1130.57,1159.32 1131.81,1159.59 1133.05,1159.85 1134.29,1160.12 1135.53,1160.39 1136.78,1160.66 1138.02,1160.93 1139.26,1161.19 1140.50,1161.46 1141.74,1161.72 1142.98,1161.99 1144.22,1162.25 1145.46,1162.51 1146.70,1162.77 1147.95,1163.03 1149.19,1163.29 1150.43,1163.55 1151.67,1163.81 1152.91,1164.06 1154.15,1164.31 1155.39,1164.57 1156.63,1164.82 1157.88,1165.07 1159.12,1165.31 1160.36,1165.56 1161.60,1165.80 1162.84,1166.04 1164.08,1166.28 1165.32,1166.52 1166.56,1166.76 1167.80,1166.99 1169.05,1167.23 1170.29,1167.46 1171.53,1167.69 1172.77,1167.91 1174.01,1168.14 1175.25,1168.36 1176.49,1168.58 1177.73,1168.80 1178.98,1169.01 1180.22,1169.23 1181.46,1169.44 1182.70,1169.65 1183.94,1169.86 1185.18,1170.06 1186.42,1170.26 1187.66,1170.46 1188.91,1170.66 1190.15,1170.86 1191.39,1171.05 1192.63,1171.24 1193.87,1171.43 1195.11,1171.61 1196.35,1171.80 1197.59,1171.98 1198.83,1172.16 1200.08,1172.33 1201.32,1172.51 1202.56,1172.68 1203.80,1172.85 1205.04,1173.01 1206.28,1173.18 1207.52,1173.34 1208.76,1173.50 1210.01,1173.66 1211.25,1173.81 1212.49,1173.96 1213.73,1174.11 1214.97,1174.26 1216.21,1174.41 1217.45,1174.55 1218.69,1174.69 1219.93,1174.83 1221.18,1174.97 1222.42,1175.10 1223.66,1175.23 1224.90,1175.36 1226.14,1175.49 1227.38,1175.61 1228.62,1175.74 1229.86,1175.86 1231.11,1175.98 1232.35,1176.09 1233.59,1176.21 1234.83,1176.32 1236.07,1176.43 1237.31,1176.54 1238.55,1176.65 1239.79,1176.75 1241.03,1176.85 1242.28,1176.95 1243.52,1177.05 1244.76,1177.15 1246.00,1177.24 1247.24,1177.33 1248.48,1177.42 1249.72,1177.51 1250.96,1177.60 1252.21,1177.69 1253.45,1177.77 1254.69,1177.85 1255.93,1177.93 1257.17,1178.01 1258.41,1178.09 1259.65,1178.16 1260.89,1178.24 1262.14,1178.31 1263.38,1178.38 1264.62,1178.45 1265.86,1178.52 1267.10,1178.58 1268.34,1178.65 1269.58,1178.71 1270.82,1178.77 1272.06,1178.83 1273.31,1178.89 1274.55,1178.95 1275.79,1179.00 1277.03,1179.06 1278.27,1179.11 1279.51,1179.16 1280.75,1179.22 1281.99,1179.26 1283.24,1179.31 1284.48,1179.36 1285.72,1179.41 1286.96,1179.45 1288.20,1179.50 1289.44,1179.54 1290.68,1179.58 1291.92,1179.62 1293.16,1179.66 1294.41,1179.70 1295.65,1179.74 1296.89,1179.78 1298.13,1179.81 1299.37,1179.85 1300.61,1179.88 1301.85,1179.91 1303.09,1179.95 1304.34,1179.98 1305.58,1180.01 1306.82,1180.04 1308.06,1180.07 1309.30,1180.10 1310.54,1180.12 1311.78,1180.15 1313.02,1180.18 1314.26,1180.20 1315.51,1180.23 1316.75,1180.25 1317.99,1180.27 1319.23,1180.30 1320.47,1180.32 1321.71,1180.34 1322.95,1180.36 1324.19,1180.38 1325.44,1180.40 1326.68,1180.42 1327.92,1180.44 1329.16,1180.46 1330.40,1180.47 1331.64,1180.49 1332.88,1180.51 1334.12,1180.52 1335.37,1180.54 1336.61,1180.55 1337.85,1180.57 1339.09,1180.58 1340.33,1180.60 1341.57,1180.61 1342.81,1180.62 1344.05,1180.64 1345.29,1180.65 1346.54,1180.66 1347.78,1180.67 1349.02,1180.68 1350.26,1180.69 1351.50,1180.70 1352.74,1180.71 1353.98,1180.72 1355.22,1180.73 1356.47,1180.74 1357.71,1180.75 1358.95,1180.76 1360.19,1180.77 1361.43,1180.78 1362.67,1180.78 1363.91,1180.79 1365.15,1180.80 1366.39,1180.81 1367.64,1180.81 1368.88,1180.82 1370.12,1180.83 1371.36,1180.83 1372.60,1180.84 1373.84,1180.84 1375.08,1180.85 1376.32,1180.85 1377.57,1180.86 1378.81,1180.86 1380.05,1180.87 1381.29,1180.87 1382.53,1180.88 1383.77,1180.88 1385.01,1180.89 1386.25,1180.89 1387.49,1180.90 1388.74,1180.90 1389.98,1180.90 1391.22,1180.91 1392.46,1180.91 1393.70,1180.91 1394.94,1180.92 1396.18,1180.92 1397.42,1180.92 1398.67,1180.93 1399.91,1180.93 1401.15,1180.93 1402.39,1180.93 1403.63,1180.94 1404.87,1180.94 1406.11,1180.94 1407.35,1180.94 1408.60,1180.95 1409.84,1180.95 1411.08,1180.95 1412.32,1180.95 1413.56,1180.95 1414.80,1180.96 1416.04,1180.96 1417.28,1180.96 1418.52,1180.96 1419.77,1180.96 1421.01,1180.96 1422.25,1180.96 1423.49,1180.97 1424.73,1180.97 1425.97,1180.97 1427.21,1180.97 1428.45,1180.97 1429.70,1180.97 1430.94,1180.97 1432.18,1180.97 1433.42,1180.98 1434.66,1180.98 1435.90,1180.98 1437.14,1180.98 1438.38,1180.98 1439.62,1180.98 1440.87,1180.98 1442.11,1180.98 1443.35,1180.98 1444.59,1180.98 1445.83,1180.98 1447.07,1180.98 1448.31,1180.99 1449.55,1180.99 1450.80,1180.99 1452.04,1180.99 1453.28,1180.99 1454.52,1180.99 1455.76,1180.99 1457.00,1180.99 1458.24,1180.99 1459.48,1180.99 1460.72,1180.99 1461.97,1180.99 1463.21,1180.99 1464.45,1180.99 1465.69,1180.99 1466.93,1180.99 1468.17,1180.99" stroke="#000000"/>
<polyline points="299.92,60.00 299.92,64.00 299.92,68.00 299.92,72.00 299.92,76.00 299.92,80.00 299.92,84.00 299.92,88.00 299.92,92.00 299.92,96.00 299.92,100.00 299.92,104.00 299.92,108.00 299.92,112.00 299.92,116.00 299.92,120.00 299.92,124.00 299.92,128.00 299.92,132.00 299.93,136.00 299.93,140.00 299.93,144.00 299.93,148.00 299.93,152.00 299.94,156.00 299.94,160.00 299.94,164.00 299.94,168.00 299.95,172.00 299.95,176.00 299.95,180.00 299.96,184.00 299.96,188.00 299.96,192.00 299.97,196.00 299.97,200.00 299.97,204.00 299.98,208.00 299.98,212.00 299.99,216.00 299.99,220.00 299.99,224.00 300.00,228.00 300.00,232.00 300.01,236.00 300.01,240.00 300.02,244.00 300.02,248.00 300.03,252.00 300.03,256.00 300.04,260.00 300.04,264.00 300.05,268.00 300.05,272.00 300.06,276.00 300.06,280.00 300.07,284.00 300.08,288.00 300.08,292.00 300.09,296.00 300.09,300.00 300.10,304.00 300.10,308.00 300.11,312.00 300.12,316.00 300.12,320.00 300.13,324.00 300.14,328.00 300.14,332.00 300.15,336.00 300.15,340.00 300.16,344.00 300.17,348.00 300.17,352.00 300.18,356.00 300.19,360.00 300.19,364.00 300.20,368.00 300.21,372.00 300.21,376.00 300.22,380.00 300.23,384.00 300.23,388.00 300.24,392.00 300.25,396.00 300.25,400.00 300.26,404.00 300.27,408.00 300.28,412.00 300.28,416.00 300.29,420.00 300.30,424.00 300.31,428.00 300.31,432.00 300.32,436.00 300.33,440.00 300.34,444.00 300.35,448.00 300.36,452.00 300.37,456.00 300.38,460.00 300.39,464.00 300.40,468.00 300.41,472.00 300.42,476.00 300.44,480.00 300.45,484.00 300.46,488.00 300.47,492.00 300.49,496.00 300.50,500.00 300.52,504.00 300.53,508.00 300.54,512.00 300.56,516.00 300.58,520.00 300.59,524.00 300.61,528.00 300.63,532.00 300.64,536.00 300.66,540.00 300.68,544.00 300.70,548.00 300.72,552.00 300.74,556.00 300.76,560.00 300.79,564.00 300.81,568.00 300.84,572.00 300.88,576.00 300.91,580.00 300.95,584.00 300.99,588.00 301.04,592.00 301.08,596.00 301.13,600.00 301.18,604.00 301.24,608.00 301.29,612.00 301.35,616.00 301.40,620.00 301.46,624.00 301.52,628.00 301.58,632.00 301.64,636.00 301.69,640.00 301.76,644.00 301.82,648.00 301.89,652.00 301.96,656.00 302.04,660.00 302.12,664.00 302.20,668.00 302.28,672.00 302.37,676.00 302.45,680.00 302.54,684.00 302.62,688.00 302.71,692.00 302.80,696.00 302.88,700.00 302.97,704.00 303.05,708.00 303.14,712.00 303.23,716.00 303.31,720.00 303.40,724.00 303.49,728.00 303.58,732.00 303.67,736.00 303.77,740.00 303.86,744.00 303.95,748.00 304.05,752.00 304.14,756.00 304.24,760.00 304.34,764.00 304.44,768.00 304.54,772.00 304.64,776.00 304.75,780.00 304.85,784.00 304.95,788.00 305.06,792.00 305.16,796.00 305.27,800.00 305.37,804.00 305.48,808.00 305.59,812.00 305.70,816.00 305.82,820.00 305.93,824.00 306.05,828.00 306.17,832.00 306.30,836.00 306.43,840.00 306.56,844.00 306.70,848.00 306.84,852.00 306.99,856.00 307.14,860.00 307.30,864.00 307.48,868.00 307.66,872.00 307.84,876.00 308.04,880.00 308.24,884.00 308.45,888.00 308.67,892.00 308.90,896.00 309.13,900.00 309.38,904.00 309.63,908.00 309.90,912.00 310.18,916.00 310.47,920.00 310.77,924.00 311.09,928.00 311.43,932.00 311.78,936.00 312.16,940.00 312.57,944.00 313.01,948.00 313.49,952.00 313.99,956.00 314.52,960.00 315.07,964.00 315.66,968.00 316.30,972.00 316.98,976.00 317.71,980.00 318.45,984.00 319.22,988.00 319.99,992.00 320.76,996.00 321.55,1000.00 322.37,1004.00 323.20,1008.00 324.06,1012.00 324.92,1016.00 325.80,1020.00 326.70,1024.00 327.60,1028.00 328.52,1032.00 329.46,1036.00 330.43,1040.00 331.44,1044.00 332.48,1048.00 333.57,1052.00 334.69,1056.00 335.88,1060.00 337.12,1064.00 338.40,1068.00 339.72,1072.00 341.12,1076.00 342.64,1080.00 344.30,1084.00 346.14,1088.00 348.19,1092.00 350.58,1096.00 353.44,1100.00 357.23,1104.00 361.94,1108.00 368.12,1112.00 374.25,1116.00 379.40,1120.00 383.50,1124.00 386.70,1128.00 389.45,1132.00 391.92,1136.00 394.29,1140.00 396.73,1144.00 399.13,1148.00 401.46,1152.00 403.77,1156.00 406.14,1160.00 408.51,1164.00 410.90,1168.00 413.33,1172.00 415.81,1176.00 418.33,1180.00 419.15,1181.30 475.22,1181.30" stroke="#d5620f" stroke-width="6.3"/>
</g>
<rect x="280.9" y="90.2" width="1446.1999999999998" height="1133.1" fill="none" stroke="#1c1c1c" stroke-width="3.4"/>
<line x1="252.6" y1="1181.30" x2="280.9" y2="1181.30" stroke="#4a4a4a" stroke-width="3.0"/>
<line x1="252.6" y1="973.00" x2="280.9" y2="973.00" stroke="#8c8c8c" stroke-width="3.0"/>
<line x1="252.6" y1="764.70" x2="280.9" y2="764.70" stroke="#555555" stroke-width="3.0"/>
<line x1="252.6" y1="556.40" x2="280.9" y2="556.40" stroke="#4a4a4a" stroke-width="3.0"/>
<line x1="252.6" y1="348.10" x2="280.9" y2="348.10" stroke="#9a9a9a" stroke-width="3.0"/>
<line x1="252.6" y1="139.80" x2="280.9" y2="139.80" stroke="#4a4a4a" stroke-width="3.0"/>
<line x1="334.05" y1="1223.3" x2="334.05" y2="1247.8" stroke="#3c3c3c" stroke-width="3.0"/>
<line x1="700.20" y1="1223.3" x2="700.20" y2="1247.8" stroke="#3c3c3c" stroke-width="3.0"/>
<line x1="1066.35" y1="1223.3" x2="1066.35" y2="1247.8" stroke="#3c3c3c" stroke-width="3.0"/>
<line x1="1432.50" y1="1223.3" x2="1432.50" y2="1247.8" stroke="#3c3c3c" stroke-width="3.0"/>
</g>
<g filter="url(#soft2)">
<text x="236.6" y="1197.6" font-size="49.6" text-anchor="end" fill="#0c0c0c" textLength="27.5" lengthAdjust="spacingAndGlyphs">0</text>
<text x="91.2" y="987.0" font-size="49.6" fill="#0c0c0c" textLength="107.5" lengthAdjust="spacingAndGlyphs">2x10</text>
<text x="199.6" y="970.7" font-size="33.6" fill="#333333" textLength="37.2" lengthAdjust="spacingAndGlyphs">06</text>
<text x="91.2" y="780.1" font-size="49.6" fill="#0c0c0c" textLength="107.5" lengthAdjust="spacingAndGlyphs">4x10</text>
<text x="199.6" y="763.8" font-size="33.6" fill="#333333" textLength="37.2" lengthAdjust="spacingAndGlyphs">06</text>
<text x="91.2" y="574.5" font-size="49.6" fill="#0c0c0c" textLength="107.5" lengthAdjust="spacingAndGlyphs">6x10</text>
<text x="199.6" y="558.2" font-size="33.6" fill="#333333" textLength="37.2" lengthAdjust="spacingAndGlyphs">06</text>
<text x="91.2" y="368.2" font-size="49.6" fill="#0c0c0c" textLength="107.5" lengthAdjust="spacingAndGlyphs">8x10</text>
<text x="199.6" y="351.9" font-size="33.6" fill="#333333" textLength="37.2" lengthAdjust="spacingAndGlyphs">06</text>
<text x="91.2" y="155.0" font-size="49.6" fill="#0c0c0c" textLength="107.5" lengthAdjust="spacingAndGlyphs">1x10</text>
<text x="199.6" y="138.7" font-size="33.6" fill="#333333" textLength="37.2" lengthAdjust="spacingAndGlyphs">07</text>
<text x="337.0" y="1302.3" font-size="49.6" text-anchor="middle" fill="#0c0c0c" textLength="27.5" lengthAdjust="spacingAndGlyphs">0</text>
<text x="695.5" y="1302.3" font-size="49.6" text-anchor="middle" fill="#0c0c0c" textLength="55" lengthAdjust="spacingAndGlyphs">50</text>
<text x="1066.4" y="1302.3" font-size="49.6" text-anchor="middle" fill="#0c0c0c" textLength="82" lengthAdjust="spacingAndGlyphs">100</text>
<text x="1433.5" y="1302.3" font-size="49.6" text-anchor="middle" fill="#0c0c0c" textLength="82" lengthAdjust="spacingAndGlyphs">150</text>
<text x="724" y="50.3" font-size="47" font-weight="bold" fill="#0a0a0a" stroke="#ffffff" stroke-width="0.7" paint-order="fill stroke" textLength="511" lengthAdjust="spacingAndGlyphs">GenomeScope Profile</text>
<text x="902.6" y="1354.6" font-size="41.6" font-weight="bold" fill="#0a0a0a" textLength="189.6" lengthAdjust="spacingAndGlyphs">Coverage</text>
<text transform="translate(42.8,755.0) rotate(-90)" font-size="42.6" font-weight="bold" fill="#0a0a0a" textLength="215" lengthAdjust="spacingAndGlyphs">Frequency</text>
</g>
<g filter="url(#soft)">
<rect x="1205.2" y="131.3" width="521" height="281.8" fill="#ffffff"/>
<line x1="1203.6" y1="131.3" x2="1727" y2="131.3" stroke="#707070" stroke-width="2.6"/>
<path d="M1205.2,130.2V413.1H1727" fill="none" stroke="#202020" stroke-width="3.1" stroke-linejoin="miter"/>
<line x1="1727.1" y1="90.2" x2="1727.1" y2="1223.3" stroke="#141414" stroke-width="3.3"/>
<line x1="1243.8" y1="178.2" x2="1325.8" y2="178.2" stroke="#54acdf" stroke-width="6.8" stroke-linecap="round"/>
<line x1="1243.8" y1="225.3" x2="1325.8" y2="225.3" stroke="#000000" stroke-width="6.8" stroke-linecap="round"/>
<line x1="1243.8" y1="272.4" x2="1325.8" y2="272.4" stroke="#e2dc52" stroke-width="6.8" stroke-linecap="round"/>
<line x1="1243.8" y1="319.4" x2="1325.8" y2="319.4" stroke="#d2621c" stroke-width="6.8" stroke-linecap="round"/>
<line x1="1245" y1="366.4" x2="1265.5" y2="366.4" stroke="#111" stroke-width="5.2" stroke-linecap="round"/>
<line x1="1291" y1="366.4" x2="1311.5" y2="366.4" stroke="#111" stroke-width="5.2" stroke-linecap="round"/>
<text x="1364.4" y="191.8" font-size="37.2" fill="#161616" stroke="#161616" stroke-width="0.45" textLength="183" lengthAdjust="spacingAndGlyphs">observed</text>
<text x="1364.4" y="238.9" font-size="37.2" fill="#161616" stroke="#161616" stroke-width="0.45" textLength="192" lengthAdjust="spacingAndGlyphs">full model</text>
<text x="1364.4" y="286.0" font-size="37.2" fill="#161616" stroke="#161616" stroke-width="0.45" textLength="339" lengthAdjust="spacingAndGlyphs">unique sequence</text>
<text x="1364.4" y="333.0" font-size="37.2" fill="#161616" stroke="#161616" stroke-width="0.45" textLength="117" lengthAdjust="spacingAndGlyphs">errors</text>
<text x="1364.4" y="380.0" font-size="37.2" fill="#161616" stroke="#161616" stroke-width="0.45" textLength="233" lengthAdjust="spacingAndGlyphs">kmer-peaks</text>
</g>
</svg>
</body>
</html>
